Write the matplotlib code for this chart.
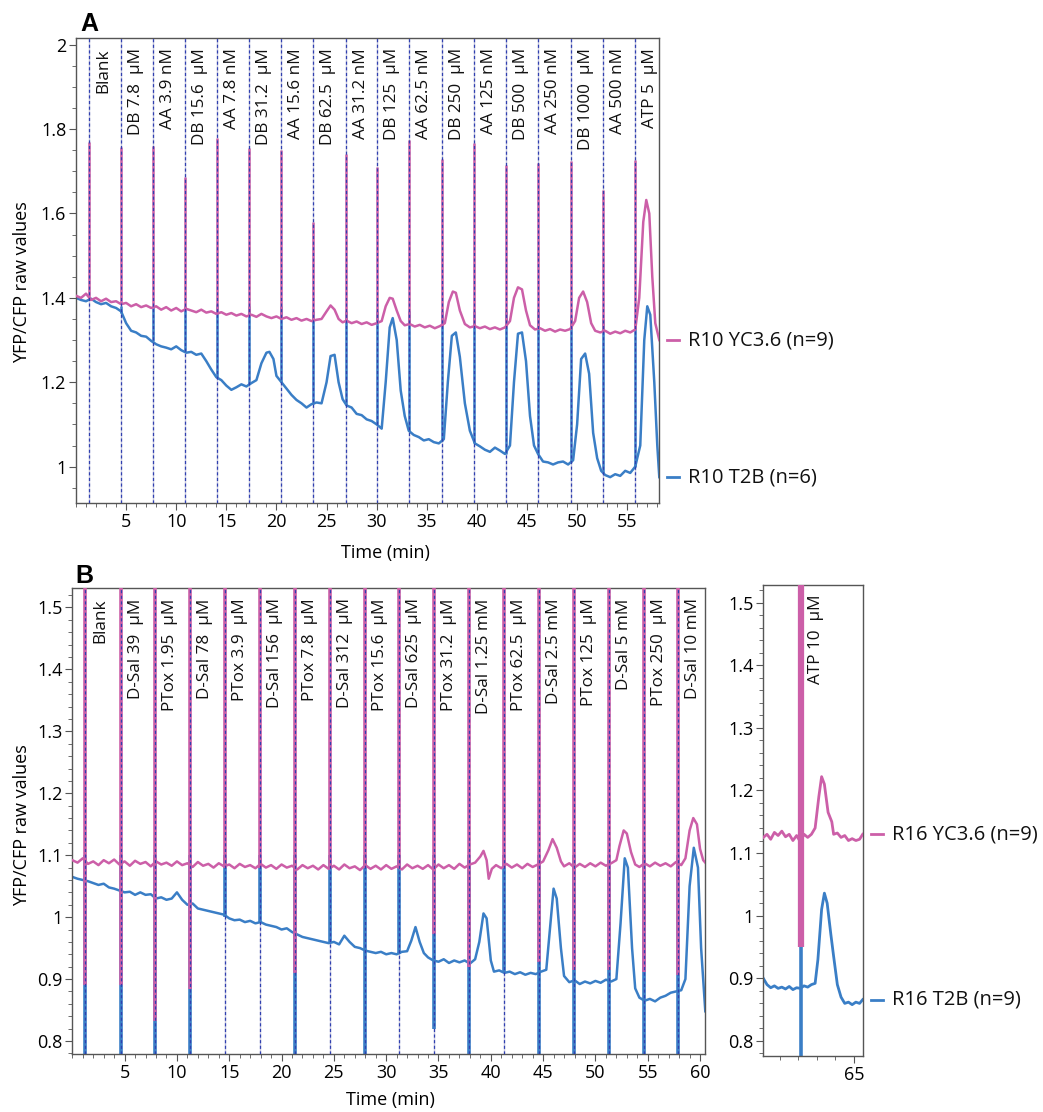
import numpy as np
import matplotlib
matplotlib.use('Agg')
import matplotlib.pyplot as plt
from matplotlib import transforms
from matplotlib.ticker import MultipleLocator, FixedLocator, FuncFormatter

plt.rcParams['font.family'] = ['Open Sans', 'DejaVu Sans']

MAG = '#cc5fa8'
BLUE = '#3a7ec6'

# ---------------- Panel A data ----------------
a_events = [1.27, 4.53, 7.65, 10.84, 14.06, 17.31, 20.47, 23.69, 26.89, 30.06,
            33.25, 36.47, 39.69, 42.95, 46.14, 49.38, 52.57, 55.73]
a_labels = ["Blank", "DB 7.8  µM", "AA 3.9 nM", "DB 15.6  µM", "AA 7.8 nM",
            "DB 31.2  µM", "AA 15.6 nM", "DB 62.5  µM", "AA 31.2 nM",
            "DB 125  µM", "AA 62.5 nM", "DB 250  µM", "AA 125 nM",
            "DB 500  µM", "AA 250 nM", "DB 1000  µM", "AA 500 nM", "ATP 5  µM"]
# injection artefact spikes
a_mag_spike_top = [1.77, 1.758, 1.76, 1.687, 1.78, 1.755, 1.75, 1.58, 1.74, 1.71,
                   1.774, 1.73, 1.768, 1.715, 1.72, 1.725, 1.656, 1.727]
a_mag_spike_base = [1.40, 1.385, 1.376, 1.372, 1.362, 1.358, 1.352, 1.347, 1.343,
                    1.340, 1.338, 1.333, 1.330, 1.330, 1.326, 1.325, 1.320, 1.325]
a_blue_spike_top = [1.40, 1.38, 1.38, 1.38, 1.385, 1.38, 1.38, 1.37, 1.37, 1.37,
                    1.37, 1.37, 1.37, 1.37, 1.37, 1.36, 1.35, 1.35]
a_blue_spike_base = [1.395, 1.365, 1.298, 1.272, 1.21, 1.195, 1.20, 1.148, 1.145,
                     1.10, 1.085, 1.06, 1.055, 1.03, 1.03, 1.01, 0.985, 1.0]

a_yc_t = [0.0, 0.5, 1.0, 1.5, 2.0, 2.5, 3.0, 3.5, 4.0, 4.5, 5.0, 5.5, 6.0, 6.5, 7.0,
          7.5, 8.0, 8.5, 9.0, 9.5, 10.0, 10.5, 11.0, 11.5, 12.0, 12.5, 13.0, 13.5,
          14.0, 14.5, 15.0, 15.5, 16.0, 16.5, 17.0, 17.5, 18.0, 18.5, 19.0, 19.5,
          20.0, 20.5, 21.0, 21.5, 22.0, 22.5, 23.0, 23.5, 24.0, 24.5, 25.0, 25.4,
          25.8, 26.2, 26.6, 27.0, 27.5, 28.0, 28.5, 29.0, 29.5, 30.0, 30.5, 30.9,
          31.3, 31.6, 32.0, 32.4, 32.8, 33.3, 33.8, 34.3, 34.8, 35.3, 35.8, 36.3,
          36.8, 37.2, 37.6, 37.9, 38.3, 38.8, 39.3, 39.8, 40.3, 40.8, 41.3, 41.8,
          42.3, 42.8, 43.3, 43.7, 44.1, 44.5, 44.9, 45.3, 45.8, 46.3, 46.8, 47.3,
          47.8, 48.3, 48.8, 49.3, 49.8, 50.2, 50.6, 51.0, 51.4, 51.8, 52.3, 52.8,
          53.3, 53.8, 54.3, 54.8, 55.3, 55.8, 56.2, 56.6, 56.9, 57.2, 57.5, 57.8, 58.2]
a_yc_v = [1.405, 1.400, 1.410, 1.395, 1.400, 1.392, 1.398, 1.390, 1.392, 1.385,
          1.388, 1.380, 1.385, 1.378, 1.382, 1.376, 1.380, 1.372, 1.378, 1.370,
          1.376, 1.368, 1.374, 1.370, 1.366, 1.372, 1.365, 1.368, 1.362, 1.366,
          1.360, 1.364, 1.358, 1.362, 1.356, 1.360, 1.355, 1.362, 1.356, 1.352,
          1.356, 1.350, 1.354, 1.348, 1.352, 1.346, 1.350, 1.345, 1.348, 1.350,
          1.368, 1.382, 1.372, 1.350, 1.342, 1.346, 1.340, 1.344, 1.338, 1.342,
          1.336, 1.340, 1.345, 1.380, 1.400, 1.398, 1.370, 1.345, 1.335, 1.338,
          1.332, 1.336, 1.330, 1.334, 1.328, 1.333, 1.340, 1.390, 1.415, 1.412,
          1.370, 1.338, 1.330, 1.333, 1.328, 1.332, 1.326, 1.330, 1.325, 1.330,
          1.345, 1.400, 1.425, 1.420, 1.370, 1.335, 1.325, 1.328, 1.322, 1.326,
          1.320, 1.325, 1.322, 1.326, 1.345, 1.400, 1.415, 1.390, 1.340, 1.322,
          1.318, 1.322, 1.315, 1.320, 1.316, 1.322, 1.318, 1.325, 1.400, 1.580,
          1.632, 1.600, 1.450, 1.340, 1.300]

a_t2b_t = [0.0, 0.5, 1.0, 1.5, 2.0, 2.5, 3.0, 3.5, 4.0, 4.5, 5.0, 5.5, 6.0, 6.5, 7.0,
           7.5, 8.0, 8.5, 9.0, 9.5, 10.0, 10.5, 11.0, 11.5, 12.0, 12.5, 13.0, 13.5,
           14.0, 14.5, 15.0, 15.5, 16.0, 16.5, 17.0, 17.5, 18.0, 18.5, 19.0, 19.3,
           19.7, 20.0, 20.5, 21.0, 21.5, 22.0, 22.5, 23.0, 23.5, 24.0, 24.5, 25.0,
           25.4, 25.8, 26.2, 26.6, 27.0, 27.5, 28.0, 28.5, 29.0, 29.5, 30.0, 30.5,
           30.9, 31.3, 31.6, 32.0, 32.4, 32.8, 33.2, 33.7, 34.2, 34.7, 35.2, 35.7,
           36.2, 36.7, 37.1, 37.5, 37.9, 38.3, 38.8, 39.3, 39.8, 40.3, 40.8, 41.3,
           41.8, 42.3, 42.8, 43.3, 43.7, 44.1, 44.5, 44.9, 45.3, 45.7, 46.1, 46.6,
           47.1, 47.6, 48.1, 48.6, 49.1, 49.6, 50.0, 50.4, 50.8, 51.2, 51.6, 52.0,
           52.4, 52.8, 53.3, 53.8, 54.3, 54.8, 55.3, 55.8, 56.3, 56.7, 57.0, 57.3,
           57.7, 58.0, 58.2]
a_t2b_v = [1.400, 1.395, 1.392, 1.398, 1.390, 1.385, 1.388, 1.380, 1.376, 1.368,
           1.340, 1.322, 1.318, 1.310, 1.308, 1.298, 1.290, 1.285, 1.282, 1.278,
           1.285, 1.276, 1.270, 1.272, 1.265, 1.268, 1.250, 1.230, 1.212, 1.205,
           1.192, 1.182, 1.188, 1.195, 1.190, 1.198, 1.205, 1.245, 1.270, 1.272,
           1.255, 1.215, 1.200, 1.185, 1.170, 1.158, 1.150, 1.140, 1.148, 1.152,
           1.150, 1.200, 1.262, 1.265, 1.200, 1.160, 1.145, 1.140, 1.125, 1.122,
           1.112, 1.108, 1.100, 1.090, 1.200, 1.330, 1.352, 1.300, 1.180, 1.120,
           1.085, 1.075, 1.070, 1.062, 1.065, 1.058, 1.055, 1.065, 1.200, 1.310,
           1.318, 1.260, 1.150, 1.085, 1.055, 1.048, 1.040, 1.035, 1.045, 1.038,
           1.030, 1.050, 1.200, 1.315, 1.318, 1.250, 1.120, 1.050, 1.030, 1.012,
           1.010, 1.005, 1.010, 1.012, 1.005, 1.015, 1.100, 1.255, 1.268, 1.220,
           1.080, 1.020, 0.990, 0.980, 0.975, 0.982, 0.978, 0.990, 0.985, 1.000,
           1.050, 1.300, 1.380, 1.360, 1.200, 1.050, 0.975]

# ---------------- Panel B data ----------------
b_events = [1.25, 4.66, 7.94, 11.28, 14.62, 17.90, 21.31, 24.65, 27.93, 31.27,
            34.61, 37.96, 41.27, 44.61, 47.96, 51.33, 54.64, 57.92]
b_labels = ["Blank", "D-Sal 39  µM", "PTox 1.95  µM", "D-Sal 78  µM",
            "PTox 3.9  µM", "D-Sal 156  µM", "PTox 7.8  µM", "D-Sal 312  µM",
            "PTox 15.6  µM", "D-Sal 625  µM", "PTox 31.2  µM", "D-Sal 1.25 mM",
            "PTox 62.5  µM", "D-Sal 2.5 mM", "PTox 125  µM", "D-Sal 5 mM",
            "PTox 250  µM", "D-Sal 10 mM"]
b_mag_spike_lo = [0.89, 0.89, 0.833, 0.884, 1.08, 1.08, 0.91, 1.08, 1.08, 1.08,
                  0.973, 0.92, 1.08, 0.927, 0.914, 0.914, 0.911, 0.906]
b_blue_spike_lo = [0.70, 0.70, 0.70, 0.70, 1.0, 0.99, 0.70, 0.96, 0.70, 0.94,
                   0.82, 0.70, 0.91, 0.70, 0.70, 0.70, 0.70, 0.70]
b_blue_spike_hi = [1.10] * 18

b_yc_t = [0.0, 0.5, 1.0, 1.5, 2.0, 2.5, 3.0, 3.5, 4.0, 4.5, 5.0, 5.5, 6.0, 6.5, 7.0,
          7.5, 8.0, 8.5, 9.0, 9.5, 10.0, 10.5, 11.0, 11.5, 12.0, 12.5, 13.0, 13.5,
          14.0, 14.5, 15.0, 15.5, 16.0, 16.5, 17.0, 17.5, 18.0, 18.5, 19.0, 19.5,
          20.0, 20.5, 21.0, 21.5, 22.0, 22.5, 23.0, 23.5, 24.0, 24.5, 25.0, 25.5,
          26.0, 26.5, 27.0, 27.5, 28.0, 28.5, 29.0, 29.5, 30.0, 30.5, 31.0, 31.5,
          32.0, 32.5, 33.0, 33.5, 34.0, 34.5, 35.0, 35.5, 36.0, 36.5, 37.0, 37.5,
          38.0, 38.5, 39.0, 39.3, 39.6, 39.8, 40.1, 40.5, 41.0, 41.5, 42.0, 42.5,
          43.0, 43.5, 44.0, 44.5, 45.0, 45.5, 45.9, 46.3, 46.7, 47.0, 47.5, 48.0,
          48.5, 49.0, 49.5, 50.0, 50.5, 51.0, 51.5, 52.0, 52.3, 52.7, 53.0, 53.4,
          53.8, 54.2, 54.7, 55.2, 55.7, 56.2, 56.7, 57.2, 57.7, 58.2, 58.6, 59.0,
          59.35, 59.7, 60.0, 60.3, 60.5]
b_yc_v = [1.092, 1.088, 1.095, 1.086, 1.090, 1.084, 1.092, 1.087, 1.093, 1.085,
          1.090, 1.083, 1.091, 1.086, 1.089, 1.082, 1.090, 1.085, 1.088, 1.083,
          1.090, 1.084, 1.087, 1.081, 1.089, 1.083, 1.086, 1.080, 1.087, 1.082,
          1.085, 1.079, 1.086, 1.081, 1.084, 1.079, 1.086, 1.080, 1.084, 1.078,
          1.085, 1.080, 1.083, 1.077, 1.084, 1.079, 1.083, 1.077, 1.084, 1.078,
          1.083, 1.077, 1.085, 1.079, 1.082, 1.076, 1.084, 1.078, 1.083, 1.077,
          1.084, 1.078, 1.082, 1.077, 1.085, 1.079, 1.083, 1.078, 1.084, 1.077,
          1.085, 1.079, 1.084, 1.078, 1.086, 1.080, 1.085, 1.088, 1.098, 1.107,
          1.092, 1.062, 1.078, 1.084, 1.079, 1.086, 1.080, 1.085, 1.079, 1.086,
          1.081, 1.085, 1.090, 1.108, 1.126, 1.112, 1.090, 1.082, 1.087, 1.080,
          1.086, 1.081, 1.087, 1.082, 1.088, 1.083, 1.087, 1.092, 1.115, 1.140,
          1.135, 1.105, 1.085, 1.081, 1.087, 1.082, 1.088, 1.083, 1.087, 1.082,
          1.089, 1.084, 1.095, 1.140, 1.160, 1.150, 1.110, 1.092, 1.088]

b_t2b_t = [0.0, 0.5, 1.0, 1.5, 2.0, 2.5, 3.0, 3.5, 4.0, 4.5, 5.0, 5.5, 6.0, 6.5, 7.0,
           7.5, 8.0, 8.5, 9.0, 9.5, 10.0, 10.5, 11.0, 11.5, 12.0, 12.5, 13.0, 13.5,
           14.0, 14.5, 15.0, 15.5, 16.0, 16.5, 17.0, 17.5, 18.0, 18.5, 19.0, 19.5,
           20.0, 20.5, 21.0, 21.5, 22.0, 22.5, 23.0, 23.5, 24.0, 24.5, 25.0, 25.5,
           26.0, 26.5, 27.0, 27.5, 28.0, 28.5, 29.0, 29.5, 30.0, 30.5, 31.0, 31.5,
           32.0, 32.4, 32.8, 33.2, 33.6, 34.0, 34.5, 35.0, 35.5, 36.0, 36.5, 37.0,
           37.5, 38.0, 38.5, 38.9, 39.3, 39.6, 40.0, 40.3, 40.8, 41.3, 41.8, 42.3,
           42.8, 43.3, 43.8, 44.3, 44.8, 45.3, 45.7, 46.0, 46.3, 46.7, 47.0, 47.5,
           48.0, 48.5, 49.0, 49.5, 50.0, 50.5, 51.0, 51.5, 52.0, 52.4, 52.8, 53.1,
           53.5, 53.8, 54.2, 54.7, 55.2, 55.7, 56.2, 56.7, 57.2, 57.7, 58.2, 58.6,
           59.0, 59.4, 59.8, 60.1, 60.5]
b_t2b_v = [1.065, 1.062, 1.060, 1.058, 1.055, 1.052, 1.054, 1.048, 1.046, 1.043,
           1.040, 1.041, 1.036, 1.040, 1.036, 1.037, 1.030, 1.032, 1.028, 1.030,
           1.040, 1.028, 1.020, 1.022, 1.014, 1.012, 1.010, 1.008, 1.006, 1.004,
           0.998, 0.995, 0.996, 0.992, 0.994, 0.990, 0.992, 0.988, 0.986, 0.984,
           0.980, 0.982, 0.976, 0.972, 0.968, 0.966, 0.964, 0.962, 0.960, 0.958,
           0.960, 0.956, 0.970, 0.960, 0.952, 0.950, 0.946, 0.944, 0.942, 0.944,
           0.940, 0.942, 0.940, 0.944, 0.945, 0.962, 0.984, 0.960, 0.942, 0.935,
           0.930, 0.928, 0.932, 0.926, 0.930, 0.927, 0.930, 0.925, 0.932, 0.960,
           1.006, 0.998, 0.930, 0.912, 0.914, 0.910, 0.912, 0.908, 0.911, 0.907,
           0.910, 0.908, 0.912, 0.915, 0.990, 1.046, 1.030, 0.950, 0.905, 0.895,
           0.898, 0.892, 0.896, 0.893, 0.897, 0.894, 0.899, 0.896, 0.900, 0.990,
           1.095, 1.080, 0.950, 0.885, 0.870, 0.865, 0.868, 0.864, 0.870, 0.873,
           0.878, 0.880, 0.882, 0.900, 1.050, 1.112, 1.080, 0.950, 0.848]

# right part of panel B (ATP)
r_event = [62.14]
r_label = ["ATP 10  µM"]
r_yc_t = [60.1, 60.3, 60.5, 60.7, 60.9, 61.1, 61.3, 61.5, 61.7, 61.9, 62.1, 62.3,
          62.5, 62.7, 62.9, 63.1, 63.25, 63.4, 63.6, 63.8, 63.9, 64.1, 64.3, 64.5,
          64.7, 64.9, 65.1, 65.3, 65.47]
r_yc_v = [1.125, 1.130, 1.122, 1.133, 1.128, 1.135, 1.126, 1.130, 1.120, 1.128,
          1.118, 1.130, 1.125, 1.130, 1.140, 1.190, 1.222, 1.210, 1.165, 1.150,
          1.130, 1.132, 1.125, 1.128, 1.120, 1.123, 1.120, 1.122, 1.130]
r_t2b_t = [60.1, 60.3, 60.5, 60.7, 60.9, 61.1, 61.3, 61.5, 61.7, 61.9, 62.1, 62.3,
           62.5, 62.7, 62.9, 63.05, 63.25, 63.4, 63.55, 63.75, 63.9, 64.1, 64.3,
           64.5, 64.7, 64.9, 65.1, 65.3, 65.47]
r_t2b_v = [0.900, 0.890, 0.885, 0.888, 0.884, 0.886, 0.883, 0.887, 0.882, 0.885,
           0.884, 0.888, 0.886, 0.890, 0.892, 0.930, 1.010, 1.036, 1.020, 0.970,
           0.935, 0.890, 0.870, 0.860, 0.862, 0.858, 0.862, 0.860, 0.866]
r_mag_spike = [0.95, 1.60]
r_blue_spike = [0.70, 1.12]

W, H = 1043, 1112
fig = plt.figure(figsize=(W / 100, H / 100), dpi=100)


def box(l, t, r, b):
    return [l / W, 1 - b / H, (r - l) / W, (b - t) / H]


axA = fig.add_axes(box(76, 38, 659.3, 503.3))
axB = fig.add_axes(box(72.3, 588.3, 705.3, 1054))
axR = fig.add_axes(box(763.3, 585, 862.7, 1056))

fmt = FuncFormatter(lambda v, p: '%g' % round(v, 3))


def style(ax):
    for s in ax.spines.values():
        s.set_color('#555555')
        s.set_linewidth(1.0)
    ax.tick_params(which='both', direction='out', color='#555555',
                   top=False, right=False, labelsize=13, pad=2)
    ax.tick_params(which='major', length=5)
    ax.tick_params(which='minor', length=3)
    ax.yaxis.set_major_formatter(fmt)


def markers(ax, times):
    for t in times:
        ax.axvline(t, color='#c8c8e0', lw=1.0, zorder=1)
        ax.axvline(t, color='#3040b0', lw=0.9, ls=(0, (2.5, 2)), zorder=5)


def event_labels(ax, times, labels):
    tr = transforms.blended_transform_factory(ax.transData, ax.transAxes)
    tr = transforms.offset_copy(tr, fig=fig, x=15, y=-10, units='dots')
    for t, lab in zip(times, labels):
        ax.text(t, 1.0, lab, transform=tr, rotation=90, ha='center', va='top',
                fontsize=12.3, color='#111111', zorder=6)


def end_label(ax, v, text, color):
    wpx = ax.get_window_extent().width
    tr = ax.get_yaxis_transform()
    ax.plot([1 + 8 / wpx, 1 + 20 / wpx], [v, v], color=color, lw=2,
            transform=tr, clip_on=False)
    ax.annotate(text, xy=(1, v), xycoords=tr, xytext=(29, 0),
                textcoords='offset pixels', va='center', ha='left',
                fontsize=14.5, color='#111111', annotation_clip=False)


# ---------- Panel A ----------
markers(axA, a_events)
axA.vlines(a_events, a_blue_spike_base, a_blue_spike_top, color=BLUE, lw=1.8, zorder=2)
axA.plot(a_t2b_t, a_t2b_v, color=BLUE, lw=1.8, zorder=2)
axA.vlines(a_events, a_mag_spike_base, a_mag_spike_top, color=MAG, lw=1.8, zorder=3)
axA.plot(a_yc_t, a_yc_v, color=MAG, lw=1.8, zorder=3)
axA.set_xlim(0, 58.2)
axA.set_ylim(0.913, 2.016)
axA.xaxis.set_major_locator(FixedLocator(np.arange(5, 56, 5)))
axA.xaxis.set_minor_locator(MultipleLocator(1))
axA.yaxis.set_major_locator(MultipleLocator(0.2))
axA.yaxis.set_minor_locator(MultipleLocator(0.05))
style(axA)
event_labels(axA, a_events, a_labels)
end_label(axA, a_yc_v[-1], "R10 YC3.6 (n=9)", MAG)
end_label(axA, a_t2b_v[-1], "R10 T2B (n=6)", BLUE)

# ---------- Panel B ----------
markers(axB, b_events)
axB.plot(b_t2b_t, b_t2b_v, color=BLUE, lw=1.8, zorder=2)
axB.vlines(b_events, b_blue_spike_lo, b_blue_spike_hi, color=BLUE, lw=2.6, zorder=2)
axB.plot(b_yc_t, b_yc_v, color=MAG, lw=1.8, zorder=3)
axB.vlines(b_events, b_mag_spike_lo, [1.6] * len(b_events), color=MAG, lw=2.6, zorder=3)
axB.set_xlim(0, 60.5)
axB.set_ylim(0.779, 1.531)
axB.xaxis.set_major_locator(FixedLocator(np.arange(5, 61, 5)))
axB.xaxis.set_minor_locator(MultipleLocator(1))
axB.yaxis.set_major_locator(MultipleLocator(0.1))
axB.yaxis.set_minor_locator(MultipleLocator(0.02))
style(axB)
event_labels(axB, b_events, b_labels)

axR.plot(r_t2b_t, r_t2b_v, color=BLUE, lw=2.0, zorder=2)
axR.vlines(r_event, r_blue_spike[0], r_blue_spike[1], color=BLUE, lw=2.6, zorder=2)
axR.plot(r_yc_t, r_yc_v, color=MAG, lw=2.0, zorder=3)
axR.vlines(r_event, r_mag_spike[0], r_mag_spike[1], color=MAG, lw=4.5, zorder=3)
axR.set_xlim(60.1, 65.47)
axR.set_ylim(0.776, 1.528)
axR.xaxis.set_major_locator(FixedLocator([65]))
axR.xaxis.set_minor_locator(MultipleLocator(1))
axR.yaxis.set_major_locator(MultipleLocator(0.1))
axR.yaxis.set_minor_locator(MultipleLocator(0.02))
style(axR)
event_labels(axR, r_event, r_label)
end_label(axR, r_yc_v[-1], "R16 YC3.6 (n=9)", MAG)
end_label(axR, r_t2b_v[-1], "R16 T2B (n=9)", BLUE)

# ---------- text ----------
fig.text(22 / W, 1 - 282 / H, "YFP/CFP raw values", rotation=90, ha='center',
         va='center', fontsize=13)
fig.text(22 / W, 1 - 825 / H, "YFP/CFP raw values", rotation=90, ha='center',
         va='center', fontsize=13)
fig.text(385 / W, 1 - 553 / H, "Time (min)", ha='center', va='center', fontsize=13)
fig.text(390 / W, 1 - 1100 / H, "Time (min)", ha='center', va='center', fontsize=13)
fig.text(80 / W, 1 - 31 / H, "A", fontsize=18, fontweight='bold',
         family='Liberation Sans', va='baseline')
fig.text(75 / W, 1 - 583 / H, "B", fontsize=18, fontweight='bold',
         family='Liberation Sans', va='baseline')

fig.savefig('out.png', dpi=100)
